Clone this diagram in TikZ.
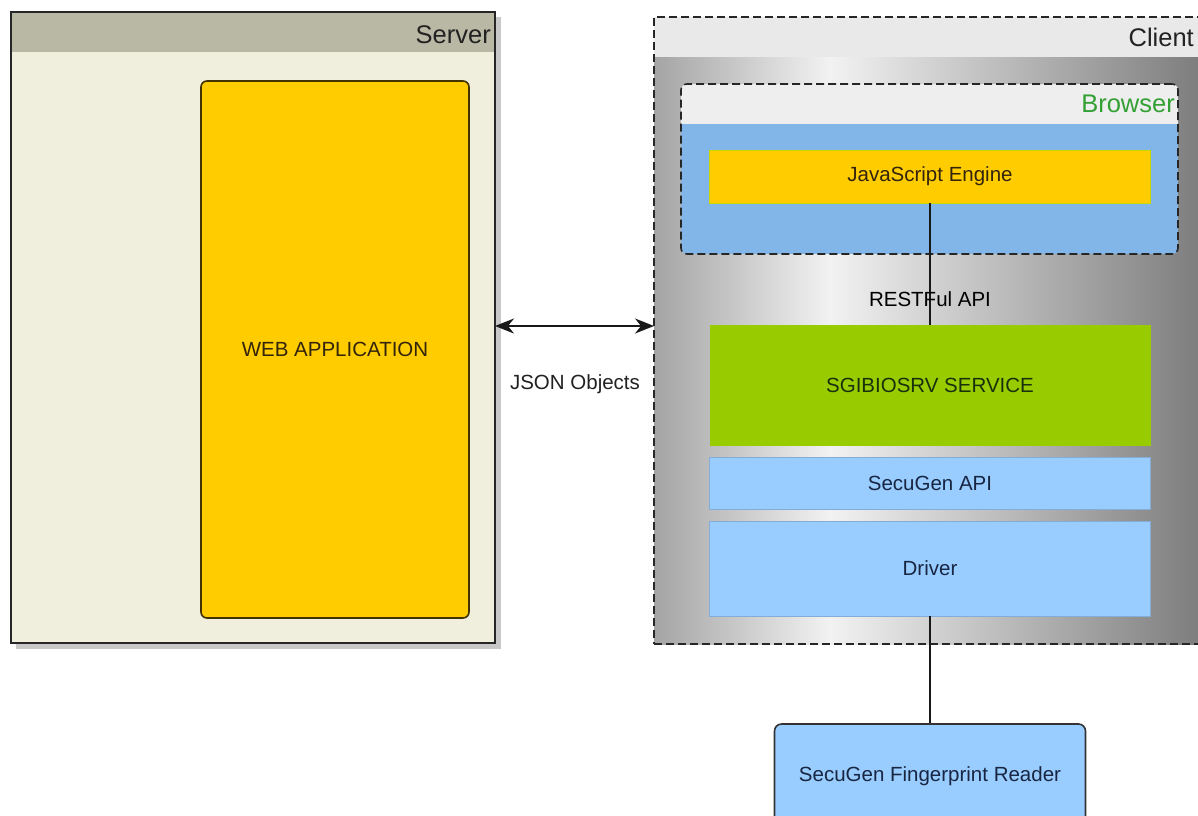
\documentclass[tikz,border=0pt]{standalone}
\usepackage{fontspec}
\setmainfont{Liberation Sans}
\usetikzlibrary{arrows.meta}
\definecolor{srvhead}{HTML}{B9B8A4}
\definecolor{srvbody}{HTML}{F0EEDC}
\definecolor{srvshadow}{HTML}{C8C8C8}
\definecolor{yel}{HTML}{FFCC00}
\definecolor{grn}{HTML}{99CC00}
\definecolor{lblue}{HTML}{99CCFF}
\definecolor{bblue}{HTML}{82B5E8}
\definecolor{clhead}{HTML}{E9E9E9}
\definecolor{brhead}{HTML}{EEEEEE}
\definecolor{cla}{HTML}{A4A4A4}
\definecolor{clb}{HTML}{F2F2F2}
\definecolor{clc}{HTML}{7C7C7C}
\definecolor{brgreen}{HTML}{33A033}
\definecolor{txtdark}{HTML}{222222}
\definecolor{txtbrown}{HTML}{33240C}
\definecolor{txtgreen}{HTML}{1A300C}
\definecolor{txtnavy}{HTML}{182642}
\begin{document}
\begin{tikzpicture}[x=1pt,y=-1pt,
  lbl/.style={font=\fontsize{20.5}{24}\selectfont},
  title/.style={font=\fontsize{25.5}{30}\selectfont, anchor=east, inner sep=0pt},
  layer/.style={lbl, minimum width=441pt, inner sep=0pt, outer sep=0pt},
  frame/.style={inner sep=0pt, outer sep=0pt},
  dashframe/.style={dash pattern=on 8pt off 4pt, line width=1.6pt, draw=black!85},
  conn/.style={line width=1.8pt, draw=black!90}]
\useasboundingbox (0,0) rectangle (1198,815);
\clip (0,0) rectangle (1198,815);
\fill[white] (0,0) rectangle (1198,815);

% ---- Server ----
\fill[srvshadow] (16,17) rectangle (501,649);
\fill[srvbody] (11,12) rectangle (495,643);
\fill[srvhead] (11,12) rectangle (495,52);
\node[frame, draw=black!85, line width=1.8pt, minimum width=484pt, minimum height=631pt] (server) at (253,327.5) {};
\node[title, text=txtdark] (servert) at (491,35) {Server};
\node[lbl, text=txtbrown, fill=yel, draw=black!75!yel, line width=1.6pt, rounded corners=6pt,
      minimum width=268pt, minimum height=537pt, inner sep=0pt] (web) at (335,349.5) {WEB APPLICATION};

% ---- Client ----
\shade[left color=cla, right color=clb] (654,57) rectangle (830,644);
\shade[left color=clb, right color=clc] (830,57) rectangle (1204,644);
\fill[clhead] (654,17) rectangle (1204,57);
\node[frame, dashframe, minimum width=550pt, minimum height=627pt] (client) at (929,330.5) {};
\node[title, text=txtdark] (clientt) at (1194,37) {Client};

% ---- Browser ----
\begin{scope}
  \clip[rounded corners=6pt] (681,84) rectangle (1178,254);
  \fill[bblue] (681,84) rectangle (1178,254);
  \fill[brhead] (681,84) rectangle (1178,124);
\end{scope}
\node[frame, dashframe, rounded corners=6pt, minimum width=497pt, minimum height=170pt] (browser) at (929.5,169) {};
\node[title, text=brgreen] (browsert) at (1175,104) {Browser};

\node[layer, text=txtbrown, fill=yel, draw=yel!80!green, line width=1pt, minimum height=53pt] (js) at (930,176.5) {JavaScript Engine};
\node[layer, text=txtgreen, fill=grn, minimum height=121pt] (svc) at (930,385.5) {SGIBIOSRV SERVICE};
\node[layer, text=txtnavy, fill=lblue, draw=lblue!85!black, line width=0.6pt, minimum height=52pt] (api) at (930,483) {SecuGen API};
\node[layer, text=txtnavy, fill=lblue, draw=lblue!85!black, line width=0.6pt, minimum height=95pt] (drv) at (930,568.5) {Driver};

\node[lbl, fill=lblue, draw=black!80, line width=1.6pt, rounded corners=7pt,
      minimum width=311pt, minimum height=150pt, inner sep=0pt] (reader) at (930,799) {};
\node[lbl, text=txtnavy, inner sep=0pt] (readert) at (930,776) {SecuGen Fingerprint Reader};

% ---- Connectors ----
\draw[conn] (js.south) -- node[lbl, pos=0.79, inner sep=0pt] (rest) {RESTFul API} (svc.north);
\draw[conn] (drv.south) -- (reader.north);
\draw[conn, {Stealth[length=19pt,width=15pt,inset=6pt]}-{Stealth[length=19pt,width=15pt,inset=6pt]}]
  ([yshift=1.5pt]server.east) -- ([yshift=1.5pt]server.east -| client.west) coordinate (cw);
\node[lbl, text=txtdark] (json) at (575,384) {JSON Objects};
\end{tikzpicture}
\end{document}
